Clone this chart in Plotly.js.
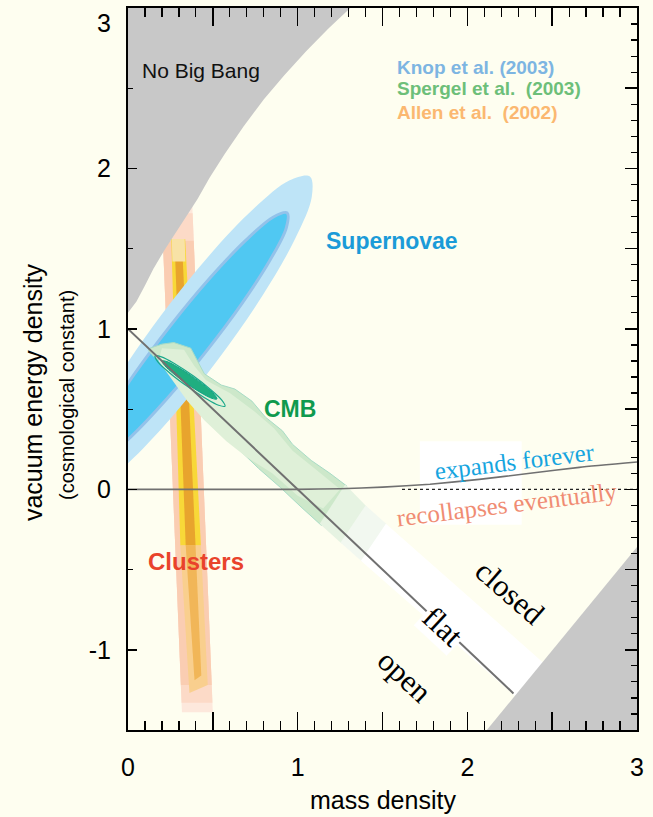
<!DOCTYPE html>
<html>
<head>
<meta charset="utf-8">
<script src="https://cdn.plot.ly/plotly-3.0.1.min.js"></script>
<style>
  html, body { margin: 0; padding: 0; background: #fefef0; }
  #chart { width: 653px; height: 817px; }
</style>
</head>
<body>
<div id="chart"></div>
<script>
// ---- axis ticks ----
const xTickVals = [0, 0.5, 1, 1.5, 2, 2.5, 3];
const xTickText = ['0', '', '1', '', '2', '', '3'];
const yTickVals = [-1, 0, 1, 2, 3];
const yTickText = ['-1', '0', '1', '2', ''];

// ---- excluded regions ----
const noBigBangX = [0, 0.02, 0.05, 0.1, 0.15, 0.22, 0.3, 0.41, 0.48, 0.57, 0.68, 0.8, 0.92, 1.05, 1.18, 1.31, 0];
const noBigBangY = [1.1, 1.13, 1.17, 1.27, 1.375, 1.5, 1.63, 1.81, 1.94, 2.09, 2.26, 2.43, 2.58, 2.73, 2.87, 3.0, 3.0];
const lowerGreyX = [2.115, 3, 3];
const lowerGreyY = [-1.5, -0.36, -1.5];

// ---- galaxy clusters (Allen et al. 2002) ----
const clusterHaloX = [0.1935, 0.3755, 0.5, 0.318];
const clusterHaloY = [1.86, 1.86, -1.39, -1.39];
const clusterMidX = [0.199, 0.381, 0.4977, 0.3157];
const clusterMidY = [1.72, 1.72, -1.33, -1.33];
const clusterBandX = [0.2054, 0.3874, 0.4935, 0.3115];
const clusterBandY = [1.55, 1.55, -1.22, -1.22];
const clusterYellowX = [0.255, 0.337, 0.4297, 0.3085];
const clusterYellowY = [1.56, 1.56, -0.35, -0.35];
const clusterLowX = [0.3085, 0.4297, 0.470, 0.362];
const clusterLowY = [-0.35, -0.35, -1.22, -1.27];
const clusterCoreX = [0.276, 0.320, 0.398, 0.340];
const clusterCoreY = [1.5, 1.5, -0.35, -0.35];
const clusterCoreLowX = [0.340, 0.398, 0.432, 0.392];
const clusterCoreLowY = [-0.35, -0.35, -1.16, -1.19];
const clusterCapX = [0.258, 0.334, 0.338, 0.262];
const clusterCapY = [1.56, 1.56, 1.42, 1.42];

// ---- supernovae (Knop et al. 2003) ----
const snOuterX = [1.072, 1.083, 0.985, 0.793, 0.535, 0.251, -0.015, -0.223, -0.342, -0.353, -0.255, -0.063, 0.195, 0.479, 0.745, 0.953, 1.072];
const snOuterY = [1.95, 1.822, 1.562, 1.208, 0.815, 0.442, 0.148, -0.026, -0.05, 0.078, 0.339, 0.692, 1.085, 1.458, 1.753, 1.926, 1.95];
const snInnerX = [0.938, 0.933, 0.839, 0.672, 0.455, 0.224, 0.012, -0.148, -0.231, -0.226, -0.132, 0.036, 0.252, 0.483, 0.695, 0.855, 0.938];
const snInnerY = [1.7225, 1.630, 1.432, 1.159, 0.852, 0.558, 0.322, 0.180, 0.1525, 0.245, 0.443, 0.716, 1.023, 1.317, 1.553, 1.696, 1.7225];

// ---- CMB (Spergel et al. 2003) ----
const cmbOuterX = [0.13, 0.2, 0.27, 0.37, 0.41, 0.45, 0.55, 0.63, 0.73, 0.81, 0.91, 0.97, 1.08, 1.19, 1.29, 1.14, 1.02, 0.9, 0.77, 0.65, 0.53, 0.41, 0.29, 0.2, 0.15, 0.12, 0.13];
const cmbOuterY = [0.88, 0.905, 0.915, 0.88, 0.8, 0.72, 0.65, 0.625, 0.55, 0.45, 0.365, 0.28, 0.18, 0.1, 0.02, -0.225, -0.11, 0.01, 0.13, 0.25, 0.375, 0.5, 0.67, 0.79, 0.83, 0.865, 0.88];
const cmbInnerX = [0.2, 0.33, 0.39, 0.46, 0.6, 0.74, 0.86, 0.97, 1.1, 1.25, 1.15, 1.0, 0.85, 0.7, 0.58, 0.45, 0.35, 0.25, 0.18, 0.2];
const cmbInnerY = [0.88, 0.87, 0.77, 0.68, 0.6, 0.49, 0.38, 0.24, 0.13, 0.0, -0.12, -0.04, 0.1, 0.2, 0.3, 0.43, 0.55, 0.7, 0.8, 0.88];
const cmbFade1X = [1.28, 1.406, 1.259, 1.13];
const cmbFade1Y = [0.03, -0.107, -0.338, -0.215];
const cmbFade2X = [1.4, 1.526, 1.379, 1.253];
const cmbFade2Y = [-0.1, -0.219, -0.45, -0.332];
const cmbRingX = [0.572, 0.534, 0.451, 0.345, 0.244, 0.176, 0.159, 0.197, 0.280, 0.386, 0.486, 0.554, 0.572];
const cmbRingY = [0.519, 0.524, 0.571, 0.645, 0.727, 0.795, 0.831, 0.826, 0.780, 0.706, 0.623, 0.555, 0.519];
const cmbCoreX = [0.524, 0.495, 0.430, 0.347, 0.268, 0.215, 0.200, 0.230, 0.295, 0.378, 0.457, 0.510, 0.524];
const cmbCoreY = [0.563, 0.567, 0.602, 0.658, 0.721, 0.773, 0.800, 0.796, 0.761, 0.704, 0.642, 0.590, 0.563];

// ---- flat-universe band and reference lines ----
const flatBandX = [1.52, 2.7, 2.7, 2.51, 1.373];
const flatBandY = [-0.214, -1.317, -1.5, -1.5, -0.445];
const flatLineX = [0, 2.272];
const flatLineY = [1, -1.272];
const expandX = [0, 0.5, 1.0, 1.25, 1.5, 1.78, 2.07, 2.37, 2.66, 3.0];
const expandY = [0, 0, 0, 0.004, 0.014, 0.032, 0.062, 0.1, 0.137, 0.17];
const zeroDotX = [1.615, 3];
const zeroDotY = [0, 0];

const SANS = 'Liberation Sans, Arial, Helvetica, sans-serif';
const SERIF = 'Liberation Serif, Times New Roman, serif';

function region(xs, ys, fill, opts) {
  opts = opts || {};
  return {
    type: 'scatter', mode: 'lines', x: xs, y: ys,
    fill: 'toself', fillcolor: fill,
    line: {
      color: opts.lineColor || 'rgba(0,0,0,0)',
      width: opts.lineWidth || 0,
      shape: opts.shape || 'linear',
      smoothing: opts.smoothing || 1
    },
    hoverinfo: 'skip', showlegend: false
  };
}

const traces = [
  // clusters
  region(clusterHaloX, clusterHaloY, '#fde8dc'),
  region(clusterMidX, clusterMidY, '#fcdac7'),
  region(clusterBandX, clusterBandY, '#facdb2'),
  region(clusterYellowX, clusterYellowY, '#f8d838'),
  region(clusterLowX, clusterLowY, '#f9cf8e'),
  region(clusterCoreX, clusterCoreY, '#e8a42d'),
  region(clusterCoreLowX, clusterCoreLowY, '#f1b658'),
  region(clusterCapX, clusterCapY, '#f8e2a6'),
  // supernovae
  region(snOuterX, snOuterY, '#bee4f7', {shape: 'spline', smoothing: 1}),
  region(snInnerX, snInnerY, '#50c8f2', {shape: 'spline', smoothing: 1, lineColor: '#93c2ea', lineWidth: 3}),
  // CMB
  region(cmbOuterX, cmbOuterY, '#cde8ca', {lineColor: '#a8dcc6', lineWidth: 1}),
  region(cmbInnerX, cmbInnerY, '#dff0d8'),
  region(cmbFade1X, cmbFade1Y, '#e6f3e2'),
  region(cmbFade2X, cmbFade2Y, '#f2f8f0'),
  region(flatBandX, flatBandY, '#ffffff'),
  region(cmbRingX, cmbRingY, 'rgba(0,0,0,0)', {shape: 'spline', lineColor: '#1aa88a', lineWidth: 1.2}),
  region(cmbCoreX, cmbCoreY, '#1fae80', {shape: 'spline', lineColor: '#12a386', lineWidth: 1}),
  // excluded regions
  region(noBigBangX, noBigBangY, '#c8c8c8'),
  region(lowerGreyX, lowerGreyY, '#c8c8c8'),
  // lines
  {type: 'scatter', mode: 'lines', x: flatLineX, y: flatLineY,
   line: {color: '#707070', width: 2}, hoverinfo: 'skip', showlegend: false},
  {type: 'scatter', mode: 'lines', x: expandX, y: expandY,
   line: {color: '#707070', width: 1.6, shape: 'spline', smoothing: 0.5}, hoverinfo: 'skip', showlegend: false},
  {type: 'scatter', mode: 'lines', x: zeroDotX, y: zeroDotY,
   line: {color: '#222222', width: 1.4, dash: 'dot'}, hoverinfo: 'skip', showlegend: false},
  // carrier for the right-hand tick axis
  {type: 'scatter', mode: 'markers', x: [0], y: [0], yaxis: 'y2',
   marker: {opacity: 0}, hoverinfo: 'skip', showlegend: false}
];

function label(text, x, y, size, color, extra) {
  return Object.assign({
    text: text, x: x, y: y, xref: 'x', yref: 'y', showarrow: false,
    xanchor: 'center', yanchor: 'middle',
    font: {family: SANS, size: size, color: color}
  }, extra || {});
}

const annotations = [
  label('No Big Bang', 0.43, 2.61, 21, '#111'),
  label('<b>Knop et al. (2003)</b>', 1.573, 2.631, 19, '#7db5e2', {xanchor: 'left'}),
  label('<b>Spergel et al.\u00a0 (2003)</b>', 1.573, 2.5, 19, '#6dbf79', {xanchor: 'left'}),
  label('<b>Allen et al.\u00a0 (2002)</b>', 1.573, 2.35, 19, '#fbb870', {xanchor: 'left'}),
  label('<b>Supernovae</b>', 1.556, 1.55, 23, '#1b9bd8'),
  label('<b>CMB</b>', 0.955, 0.5, 23, '#0f9a4e'),
  label('<b>Clusters</b>', 0.40, -0.45, 24, '#e9432b'),
  label('expands forever', 2.28, 0.175, 25, '#16a5df', {textangle: -7, font: {family: SERIF, size: 25, color: '#16a5df'}}),
  label('recollapses eventually', 2.2335, -0.094, 25, '#f08c73', {textangle: -7, font: {family: SERIF, size: 25, color: '#f08c73'}}),
  label('closed', 2.251, -0.644, 31, '#000', {textangle: 41, font: {family: SERIF, size: 31, color: '#000'}}),
  label('flat', 1.856, -0.856, 31, '#000', {textangle: 43, bgcolor: '#ffffff', borderpad: 1, font: {family: SERIF, size: 31, color: '#000'}}),
  label('open', 1.632, -1.169, 31, '#000', {textangle: 43, font: {family: SERIF, size: 31, color: '#000'}}),
  label('vacuum energy density', -0.1866, 0.606, 25, '#000', {xref: 'paper', textangle: -90}),
  label('(cosmological constant)', -0.12, 0.5875, 20, '#000', {xref: 'paper', textangle: -90}),
  label('mass density', 0.5, -0.097, 25, '#000', {xref: 'paper', yref: 'paper'}),
  label('3', -0.0295, 3, 25, '#000', {xref: 'paper', xanchor: 'right', yshift: -15})
];

const layout = {
  width: 653, height: 817,
  margin: {l: 128, r: 16, t: 8, b: 87, pad: 0},
  paper_bgcolor: '#fefef0', plot_bgcolor: '#fefef0',
  showlegend: false, hovermode: false,
  xaxis: {
    range: [0, 3], showgrid: false, zeroline: false,
    showline: true, linecolor: '#000', linewidth: 2, mirror: 'ticks',
    ticks: 'inside', tickmode: 'array', tickvals: xTickVals, ticktext: xTickText,
    ticklen: 18, tickwidth: 1.5, tickcolor: '#000',
    minor: {dtick: 0.1, tick0: 0, ticks: 'inside', ticklen: 9, tickwidth: 1.2, tickcolor: '#000', showgrid: false},
    tickfont: {family: SANS, size: 25, color: '#000'},
    ticklabelstandoff: 14, fixedrange: true
  },
  yaxis: {
    range: [-1.5, 3], showgrid: false, zeroline: false,
    showline: true, linecolor: '#000', linewidth: 2, mirror: false,
    ticks: 'inside', tickmode: 'array', tickvals: yTickVals, ticktext: yTickText,
    ticklen: 9, tickwidth: 1.5, tickcolor: '#000',
    minor: {dtick: 0.5, tick0: 0, ticks: 'inside', ticklen: 5, tickwidth: 1.2, tickcolor: '#000', showgrid: false},
    tickfont: {family: SANS, size: 25, color: '#000'},
    ticklabelstandoff: 10, fixedrange: true
  },
  yaxis2: {
    overlaying: 'y', side: 'right', range: [-1.5, 3],
    showgrid: false, zeroline: false, showticklabels: false,
    showline: true, linecolor: '#000', linewidth: 2,
    ticks: 'inside', tick0: 0, dtick: 0.5, ticklen: 12, tickwidth: 1.5, tickcolor: '#000',
    minor: {dtick: 0.1, tick0: 0, ticks: 'inside', ticklen: 6, tickwidth: 1.2, tickcolor: '#000', showgrid: false},
    fixedrange: true
  },
  shapes: [
    {type: 'rect', xref: 'x', yref: 'y', x0: 1.72, x1: 2.32, y0: -0.22, y1: 0.3,
     fillcolor: '#ffffff', line: {width: 0}, layer: 'below'}
  ],
  annotations: annotations
};

Plotly.newPlot('chart', traces, layout, {displayModeBar: false, staticPlot: true});
</script>
</body>
</html>
